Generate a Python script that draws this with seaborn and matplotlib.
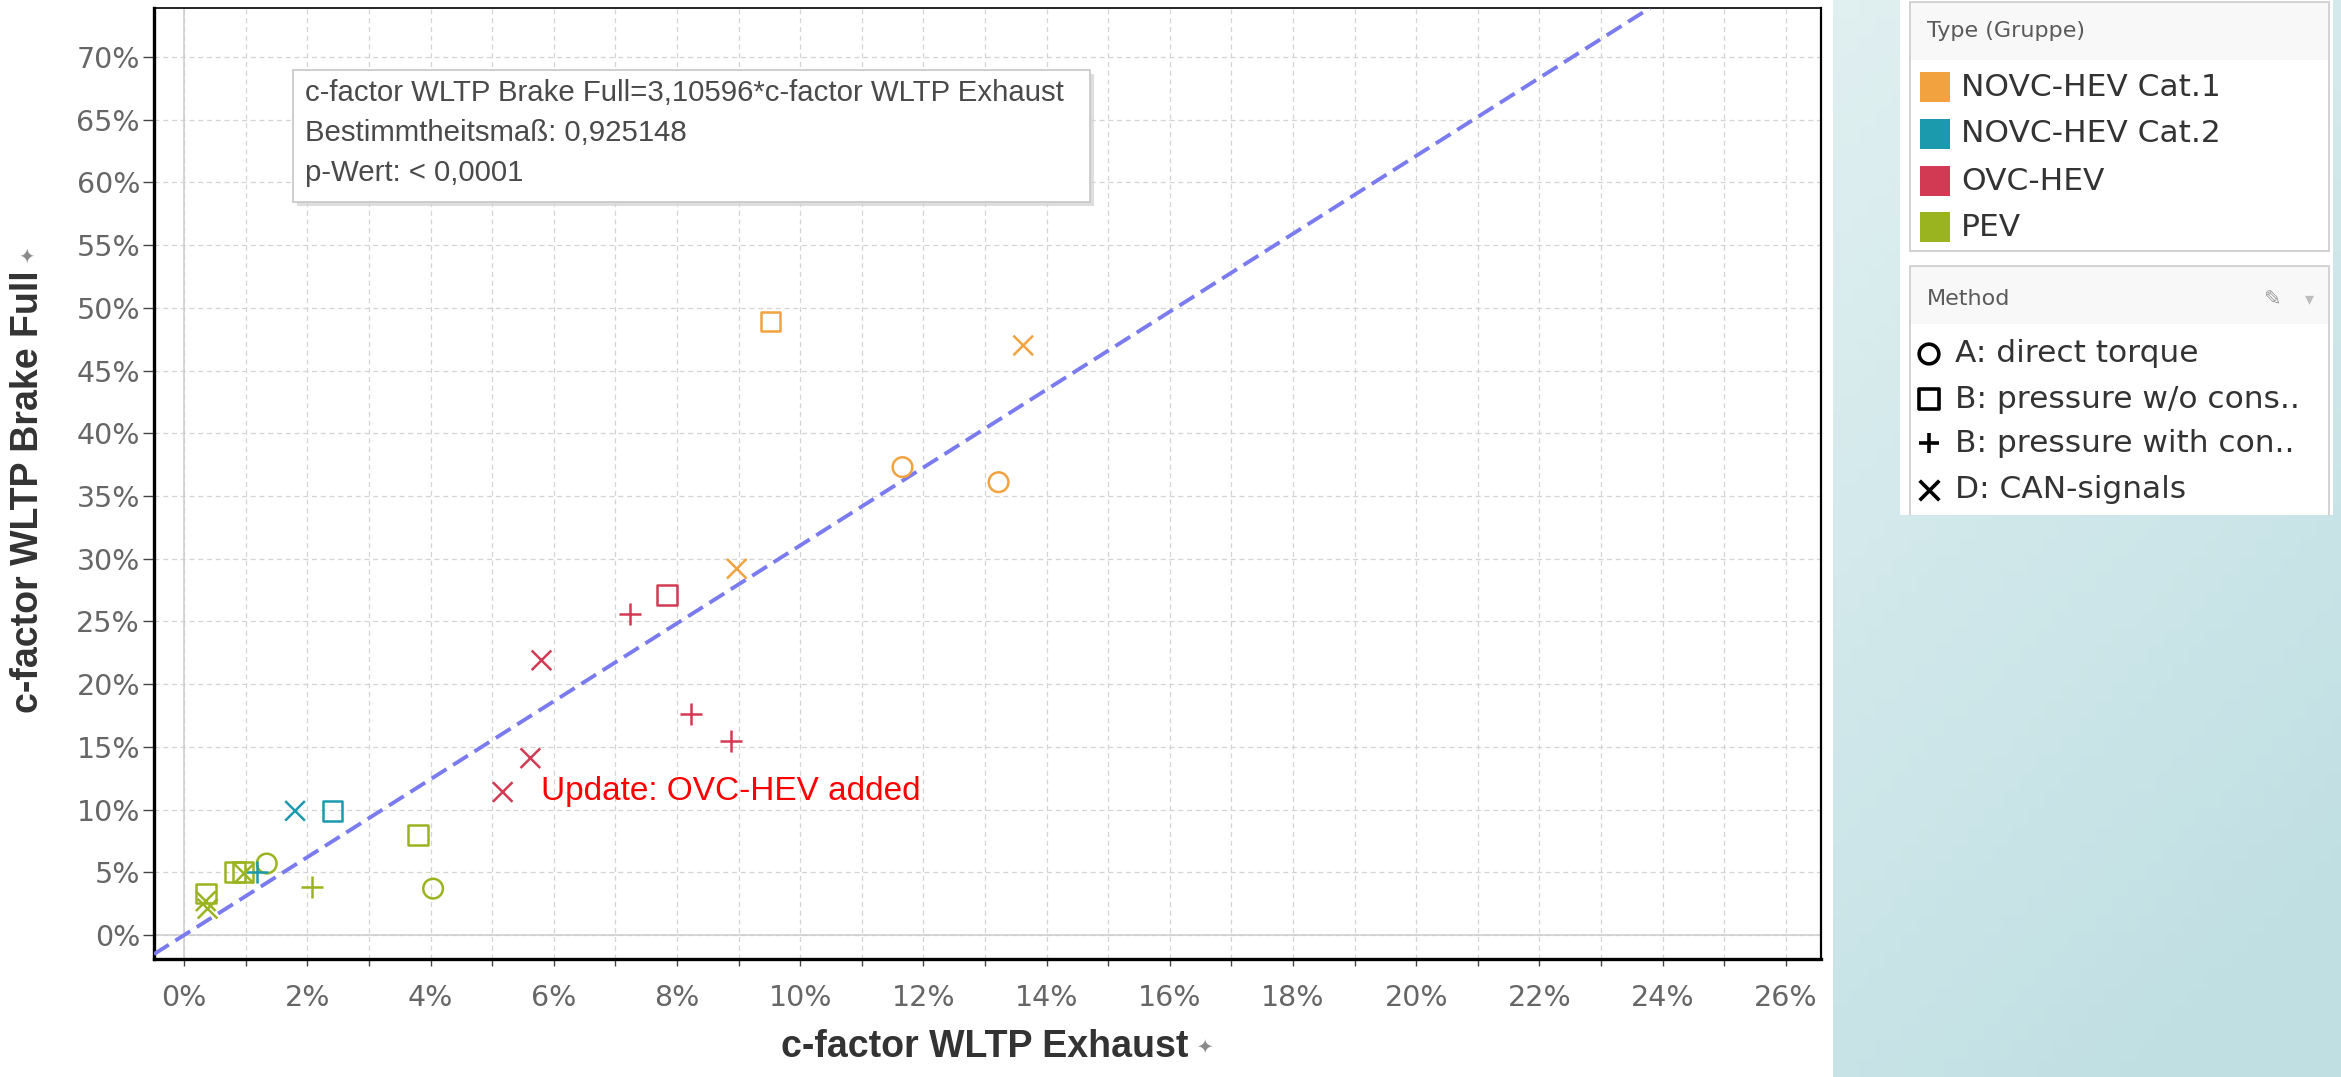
import matplotlib
matplotlib.use('Agg')
import matplotlib.pyplot as plt
import matplotlib.patches as mpatches
from matplotlib.ticker import MultipleLocator, PercentFormatter
import numpy as np
import pandas as pd
import seaborn as sns

W, H = 2341, 1077
DPI = 100

# legend categories
types = ['NOVC-HEV Cat.1', 'NOVC-HEV Cat.2', 'OVC-HEV', 'PEV']
type_colors = ['#F2A33F', '#1C9AAD', '#D13A52', '#9AB420']
methods = ['A: direct torque', 'B: pressure w/o cons..',
           'B: pressure with con..', 'D: CAN-signals']
method_markers = ['o', 's', '+', 'x']

# points (values in %)
pt_type = ['NOVC-HEV Cat.1'] * 5 + ['OVC-HEV'] * 7 + ['NOVC-HEV Cat.2'] * 3 + ['PEV'] * 10
pt_method = [
    'B: pressure w/o cons..', 'D: CAN-signals', 'A: direct torque', 'A: direct torque', 'D: CAN-signals',
    'B: pressure w/o cons..', 'B: pressure with con..', 'D: CAN-signals', 'B: pressure with con..',
    'B: pressure with con..', 'D: CAN-signals', 'D: CAN-signals',
    'D: CAN-signals', 'B: pressure w/o cons..', 'B: pressure with con..',
    'B: pressure w/o cons..', 'A: direct torque', 'B: pressure with con..', 'A: direct torque',
    'B: pressure w/o cons..', 'B: pressure w/o cons..', 'D: CAN-signals',
    'B: pressure w/o cons..', 'D: CAN-signals', 'D: CAN-signals',
]
exhaust = [9.52, 13.62, 11.66, 13.22, 8.97,
           7.84, 7.24, 5.80, 8.23, 8.87, 5.62, 5.17,
           1.80, 2.41, 1.18,
           3.80, 4.04, 2.08, 1.34, 0.83, 0.95, 0.97, 0.35, 0.35, 0.38]
brake = [48.9, 47.0, 37.3, 36.1, 29.2,
         27.1, 25.6, 21.9, 17.6, 15.5, 14.1, 11.4,
         9.9, 9.9, 5.0,
         8.0, 3.7, 3.8, 5.7, 5.0, 5.0, 4.9, 3.3, 2.7, 2.1]

SLOPE = 3.10596
fit_lines = ['c-factor WLTP Brake Full=3,10596*c-factor WLTP Exhaust',
             'Bestimmtheitsmaß: 0,925148',
             'p-Wert: < 0,0001']


def main():
    sns.set_theme(style='white')
    plt.rcParams['font.family'] = ['DejaVu Sans']
    lab_font = ['Liberation Sans', 'DejaVu Sans']

    df = pd.DataFrame({'type': pt_type, 'method': pt_method,
                       'exhaust': exhaust, 'brake': brake})
    palette = dict(zip(types, type_colors))

    fig = plt.figure(figsize=(W / DPI, H / DPI), dpi=DPI, facecolor='white')

    # teal side panel background
    bg = fig.add_axes([1833 / W, 0, (W - 1833) / W, 1], zorder=-5)
    yy, xx = np.mgrid[0:1:60j, 0:1:60j]
    t = np.clip(0.75 * yy + 0.35 * xx, 0, 1)[..., None]
    c1 = np.array([0.88, 0.94, 0.945])
    c2 = np.array([0.75, 0.875, 0.89])
    bg.imshow(c1 * (1 - t) + c2 * t, aspect='auto', extent=[0, 1, 1, 0])
    bg.set_axis_off()

    # main scatter axes
    ax = fig.add_axes([154 / W, 1 - 959 / H, (1821 - 154) / W, (959 - 8) / H], zorder=0)
    ax.set_facecolor('white')

    for m, mk in zip(methods, method_markers):
        sub = df[df['method'] == m]
        size = 250 if mk == '+' else 200
        sns.scatterplot(data=sub, x='exhaust', y='brake', hue='type',
                        hue_order=types, palette=palette, marker=mk, s=size,
                        linewidth=1.8, legend=False, ax=ax, zorder=4)
        coll = ax.collections[-1]
        coll.set_edgecolor([palette[tp] for tp in sub['type']])
        coll.set_facecolor('none')
        coll.set_linewidth(1.8)

    # regression line through origin
    ax.axline((0, 0), slope=SLOPE, color='#7B7BF0', lw=2.8,
              ls=(0, (4.5, 2.0)), zorder=3)

    ax.set_xlim(-0.49, 26.57)
    ax.set_ylim(-1.91, 73.9)
    ax.xaxis.set_major_locator(MultipleLocator(2))
    ax.xaxis.set_minor_locator(MultipleLocator(1))
    ax.yaxis.set_major_locator(MultipleLocator(5))
    ax.xaxis.set_major_formatter(PercentFormatter(decimals=0))
    ax.yaxis.set_major_formatter(PercentFormatter(decimals=0))

    ax.grid(True, which='both', axis='x', color='#d4d4d4', lw=0.9, ls=(0, (4, 3)))
    ax.grid(True, which='major', axis='y', color='#d4d4d4', lw=0.9, ls=(0, (4, 3)))
    ax.axvline(0, color='#cfcfcf', lw=1.2, zorder=1)
    ax.axhline(0, color='#cfcfcf', lw=1.2, zorder=1)

    ax.tick_params(axis='x', which='both', bottom=True, length=5, width=1,
                   color='#444', pad=13, labelsize=20.5, labelcolor='#666')
    ax.tick_params(axis='y', which='major', left=True, length=8, width=1,
                   color='#444', pad=2, labelsize=20.5, labelcolor='#666')
    for side, lw in [('left', 2.4), ('bottom', 2.4), ('top', 1.2), ('right', 1.6)]:
        ax.spines[side].set_visible(True)
        ax.spines[side].set_color('black')
        ax.spines[side].set_linewidth(lw)
    ax.set_xlabel('')
    ax.set_ylabel('')

    ax.text(5.79, 11.47, 'Update: OVC-HEV added', color='#ff0000', fontsize=24,
            family=lab_font, va='center', ha='left', zorder=6)

    # overlay in pixel coordinates (y down)
    ov = fig.add_axes([0, 0, 1, 1], zorder=5)
    ov.set_xlim(0, W)
    ov.set_ylim(H, 0)
    ov.set_axis_off()
    ov.patch.set_alpha(0)

    # regression info box
    ov.add_patch(mpatches.Rectangle((297, 74), 797, 132, fc='#d6d6d6', ec='none', alpha=0.8))
    ov.add_patch(mpatches.Rectangle((293, 70), 797, 132, fc='white', ec='#c6c6c6', lw=1.2))
    for i, line in enumerate(fit_lines):
        ov.text(305, 93 + 40 * i, line, fontsize=21.2, color='#4a4a4a',
                family=lab_font, va='center', ha='left')

    # axis titles with pin icon
    xl = ov.text(985, 1047, 'c-factor WLTP Exhaust', fontsize=27, fontweight='bold',
                 color='#333333', family=lab_font, ha='center', va='center')
    yl = ov.text(28, 492, 'c-factor WLTP Brake Full', fontsize=27, fontweight='bold',
                 color='#333333', family=lab_font, ha='center', va='center', rotation=90)
    fig.canvas.draw()
    bx = xl.get_window_extent()
    by = yl.get_window_extent()
    ov.text(bx.x1 + 16, 1047, '✦', fontsize=14, color='#8a8a8a', ha='center', va='center')
    ov.text(28, H - by.y1 - 16, '✦', fontsize=14, color='#8a8a8a', ha='center',
            va='center', rotation=90)

    # legend panels
    ov.add_patch(mpatches.Rectangle((1900, 0), 433, 515, fc='white', ec='none'))
    ov.add_patch(mpatches.Rectangle((1910, 2), 419, 58, fc='#f8f8f8', ec='none'))
    ov.add_patch(mpatches.Rectangle((1910, 2), 419, 249, fc='none', ec='#d2d2d2', lw=1.4))
    ov.add_patch(mpatches.Rectangle((1910, 266), 419, 58, fc='#f8f8f8', ec='none'))
    ov.plot([1910, 1910, 2329, 2329], [515, 266, 266, 515], color='#d2d2d2', lw=1.4)

    ov.text(1927, 31, 'Type (Gruppe)', fontsize=16, color='#5a5a5a', va='center', ha='left')
    ov.text(1927, 299, 'Method', fontsize=16, color='#5a5a5a', va='center', ha='left')
    ov.text(2272, 299, '✎', fontsize=15, color='#9a9a9a', va='center', ha='center')
    ov.text(2309, 299, '▾', fontsize=13, color='#bdbdbd', va='center', ha='center')

    type_rows = [87, 134, 181, 227]
    ov.scatter([1935] * len(types), type_rows, marker='s', s=470,
               c=type_colors, linewidths=0)
    for lab, yy_ in zip(types, type_rows):
        ov.text(1961, yy_, lab, fontsize=22.5, color='#333333', va='center', ha='left')

    method_rows = [354, 399, 443, 490]
    for mk, yy_ in zip(method_markers, method_rows):
        if mk in ('o', 's'):
            ov.scatter([1929], [yy_], marker=mk, s=200, facecolors='none',
                       edgecolors='black', linewidths=2.6)
        else:
            ov.scatter([1929], [yy_], marker=mk, s=200, c='black', linewidths=2.6)
    for lab, yy_ in zip(methods, method_rows):
        ov.text(1955, yy_, lab, fontsize=22.5, color='#333333', va='center', ha='left')

    fig.savefig('out.png', dpi=DPI, facecolor='white')
    plt.close(fig)


if __name__ == '__main__':
    main()
